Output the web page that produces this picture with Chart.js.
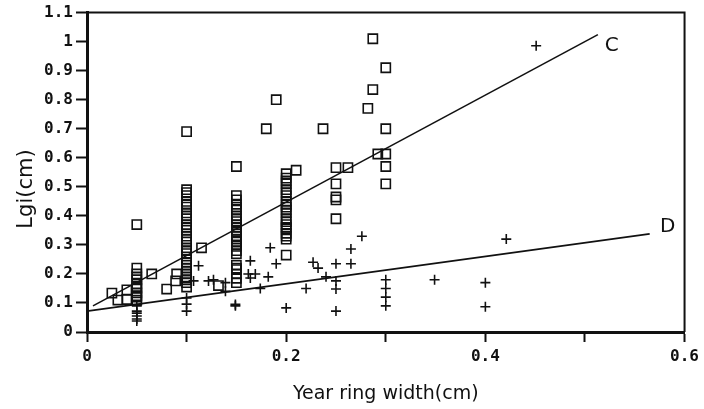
<!DOCTYPE html>
<html>
<head>
<meta charset="utf-8">
<script src="https://cdn.jsdelivr.net/npm/chart.js@4/dist/chart.umd.min.js"></script>
<style>
  html, body { margin: 0; padding: 0; background: #fff; }
  #wrap { width: 704px; height: 409px; }
</style>
</head>
<body>
<div id="wrap"><canvas id="lgiChart" width="704" height="409"></canvas></div>
<script>
// open squares
const squareX = [
    0.025, 0.031, 0.04, 0.04,
    0.05, 0.05, 0.05, 0.05, 0.05, 0.05, 0.05, 0.05, 0.05, 0.05, 0.05, 0.05,
    0.065, 0.08, 0.089, 0.09,
    0.1, 0.1, 0.1, 0.1, 0.1, 0.1, 0.1, 0.1, 0.1, 0.1, 0.1, 0.1, 0.1, 0.1, 0.1, 0.1, 0.1, 0.1, 0.1,
    0.1, 0.1, 0.1, 0.1, 0.1, 0.1, 0.1, 0.1, 0.1, 0.1,
    0.115, 0.132,
    0.15, 0.15, 0.15, 0.15, 0.15, 0.15, 0.15, 0.15, 0.15, 0.15, 0.15, 0.15, 0.15, 0.15, 0.15, 0.15, 0.15, 0.15, 0.15,
    0.15, 0.15, 0.15, 0.15, 0.15, 0.15, 0.15,
    0.18, 0.19,
    0.2, 0.2, 0.2, 0.2, 0.2, 0.2, 0.2, 0.2, 0.2, 0.2, 0.2, 0.2, 0.2, 0.2,
    0.2, 0.2, 0.2, 0.2, 0.2, 0.2, 0.2,
    0.21, 0.237,
    0.25, 0.25, 0.25, 0.25, 0.25, 0.262,
    0.282, 0.287, 0.287, 0.292,
    0.3, 0.3, 0.3, 0.3, 0.3
];
const squareY = [
    0.134, 0.11, 0.112, 0.145,
    0.37, 0.22, 0.2, 0.19, 0.18, 0.165, 0.155, 0.15, 0.135, 0.125, 0.12, 0.11,
    0.2, 0.148, 0.176, 0.2,
    0.69, 0.49, 0.47, 0.45, 0.43, 0.41, 0.39, 0.37, 0.35, 0.33, 0.31, 0.29, 0.27, 0.25, 0.23, 0.21, 0.19, 0.17, 0.155,
    0.48, 0.44, 0.4, 0.36, 0.32, 0.28, 0.24, 0.22, 0.2, 0.18,
    0.29, 0.16,
    0.57, 0.47, 0.455, 0.44, 0.42, 0.4, 0.38, 0.36, 0.345, 0.33, 0.31, 0.295, 0.28, 0.27, 0.23, 0.215, 0.2, 0.185, 0.17,
    0.43, 0.39, 0.37, 0.35, 0.32, 0.3, 0.22,
    0.7, 0.8,
    0.545, 0.53, 0.51, 0.49, 0.47, 0.45, 0.43, 0.41, 0.39, 0.37, 0.355, 0.34, 0.32, 0.265,
    0.52, 0.48, 0.44, 0.42, 0.38, 0.36, 0.33,
    0.557, 0.7,
    0.566, 0.51, 0.465, 0.455, 0.39, 0.566,
    0.77, 1.01, 0.835, 0.613,
    0.91, 0.7, 0.613, 0.57, 0.51
];

// plus marks
const plusX = [
    0.05, 0.05, 0.05, 0.05, 0.05, 0.05,
    0.1, 0.1, 0.1,
    0.107, 0.112, 0.122, 0.127, 0.139, 0.139, 0.149, 0.149,
    0.162, 0.164, 0.164, 0.169, 0.174, 0.182, 0.184, 0.19, 0.2,
    0.22, 0.227, 0.232, 0.24,
    0.25, 0.25, 0.25, 0.25, 0.265, 0.265, 0.276,
    0.3, 0.3, 0.3, 0.3,
    0.349, 0.4, 0.4, 0.421, 0.451
];
const plusY = [
    0.09, 0.072, 0.065, 0.055, 0.045, 0.038,
    0.117, 0.096, 0.072,
    0.176, 0.228, 0.176, 0.18, 0.17, 0.14, 0.09, 0.095,
    0.2, 0.245, 0.186, 0.2, 0.15, 0.19, 0.29, 0.235, 0.083,
    0.15, 0.24, 0.22, 0.19,
    0.235, 0.176, 0.148, 0.072, 0.235, 0.286, 0.33,
    0.18, 0.15, 0.12, 0.09,
    0.18, 0.17, 0.087, 0.32, 0.986
];

// fitted lines C and D, end points
const lineCX = [0.006, 0.513];
const lineCY = [0.09, 1.024];
const lineDX = [0, 0.565];
const lineDY = [0.072, 0.338];

const xTickLabels = ['0', '', '0.2', '', '0.4', '', '0.6'];
const yTickLabels = ['0', '0.1', '0.2', '0.3', '0.4', '0.5', '0.6', '0.7', '0.8', '0.9', '1', '1.1'];

const toPoints = (xs, ys) => xs.map((x, i) => ({ x: x, y: ys[i] }));

const frameAndLabels = {
    id: 'frameAndLabels',
    afterDraw(chart) {
        const c = chart.ctx;
        const a = chart.chartArea;
        const sx = chart.scales.x;
        const sy = chart.scales.y;
        c.save();
        c.strokeStyle = '#111';
        c.lineWidth = 2;
        c.beginPath();
        c.moveTo(a.left, a.top);
        c.lineTo(a.right, a.top);
        c.lineTo(a.right, a.bottom);
        c.stroke();

        c.fillStyle = '#111';
        c.font = '20px "DejaVu Sans"';
        c.textAlign = 'center';
        c.textBaseline = 'middle';
        c.fillText('C', sx.getPixelForValue(0.527), sy.getPixelForValue(0.985));
        c.fillText('D', sx.getPixelForValue(0.583), sy.getPixelForValue(0.362));

        c.translate(27, 189);
        c.rotate(-Math.PI / 2);
        c.font = '21px "DejaVu Sans"';
        c.fillText('Lgi(cm)', 0, 0);
        c.restore();
    }
};

const ctx = document.getElementById('lgiChart').getContext('2d');
const lgiChart = new Chart(ctx, {
    type: 'scatter',
    data: {
        datasets: [
            {
                label: 'C',
                type: 'line',
                data: toPoints(lineCX, lineCY),
                showLine: true,
                borderColor: '#111',
                borderWidth: 1.6,
                pointRadius: 0,
                fill: false
            },
            {
                label: 'D',
                type: 'line',
                data: toPoints(lineDX, lineDY),
                showLine: true,
                borderColor: '#111',
                borderWidth: 1.6,
                pointRadius: 0,
                fill: false
            },
            {
                label: 'squares',
                data: toPoints(squareX, squareY),
                pointStyle: 'rect',
                pointRadius: 6.5,
                borderColor: '#111',
                backgroundColor: 'rgba(255,255,255,0)',
                borderWidth: 1.6
            },
            {
                label: 'plus',
                data: toPoints(plusX, plusY),
                pointStyle: 'cross',
                pointRadius: 5,
                borderColor: '#111',
                borderWidth: 1.6
            }
        ]
    },
    options: {
        responsive: false,
        animation: false,
        events: [],
        layout: { padding: { left: 0, top: 12, right: 19, bottom: 0 } },
        plugins: {
            legend: { display: false },
            tooltip: { enabled: false }
        },
        scales: {
            x: {
                type: 'linear',
                min: 0,
                max: 0.6,
                afterFit(scale) { scale.height = 77; },
                border: { color: '#111', width: 3 },
                grid: {
                    drawOnChartArea: false,
                    drawTicks: true,
                    tickLength: 10,
                    tickWidth: 2,
                    tickColor: '#111'
                },
                ticks: {
                    stepSize: 0.1,
                    padding: 5,
                    maxRotation: 0,
                    autoSkip: false,
                    color: '#111',
                    font: { family: '"DejaVu Sans Mono"', size: 16, weight: 'bold' },
                    callback: (v, i) => xTickLabels[i]
                },
                title: {
                    display: true,
                    text: 'Year ring width(cm)',
                    color: '#111',
                    font: { family: '"DejaVu Sans"', size: 19 },
                    padding: { top: 0, bottom: 4 }
                }
            },
            y: {
                type: 'linear',
                min: 0,
                max: 1.1,
                afterFit(scale) { scale.width = 87; },
                border: { color: '#111', width: 3 },
                grid: {
                    drawOnChartArea: false,
                    drawTicks: true,
                    tickLength: 11,
                    tickWidth: 2,
                    tickColor: '#111'
                },
                ticks: {
                    stepSize: 0.1,
                    padding: 3,
                    autoSkip: false,
                    color: '#111',
                    font: { family: '"DejaVu Sans Mono"', size: 16, weight: 'bold' },
                    callback: (v, i) => yTickLabels[i]
                }
            }
        }
    },
    plugins: [frameAndLabels]
});
</script>
</body>
</html>
